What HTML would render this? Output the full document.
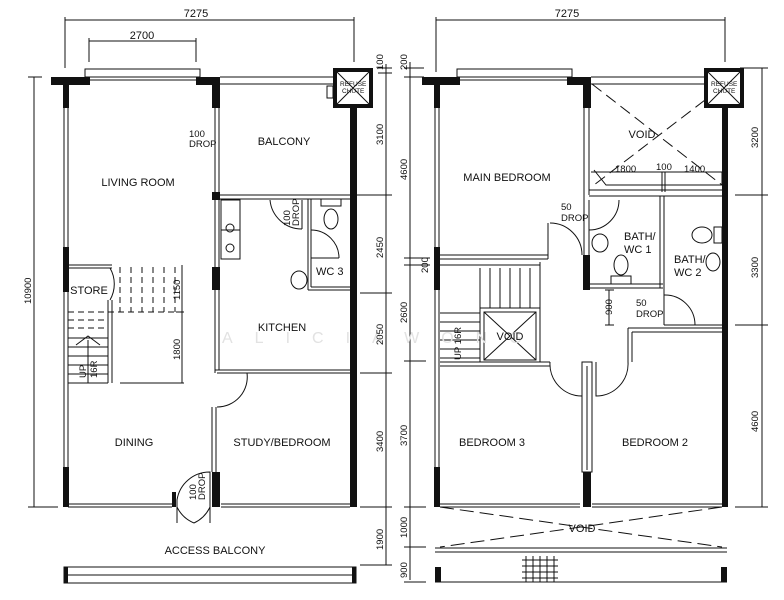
<!DOCTYPE html>
<html><head><meta charset="utf-8"><style>
html,body{margin:0;padding:0;background:#fff;width:784px;height:600px;overflow:hidden}
svg{display:block}
text{font-family:"Liberation Sans Narrow","Liberation Sans",sans-serif;fill:#111}
</style></head><body>
<svg width="784" height="600" viewBox="0 0 784 600" xmlns="http://www.w3.org/2000/svg">
<g stroke="#111" stroke-width="1" fill="none">
<line x1="65" y1="20" x2="354" y2="20"/><line x1="65" y1="17" x2="65" y2="68"/><line x1="354" y1="17" x2="354" y2="62"/>
<line x1="89" y1="41" x2="196" y2="41"/><line x1="89" y1="38" x2="89" y2="62"/><line x1="196" y1="38" x2="196" y2="62"/>
<line x1="34" y1="77" x2="34" y2="507"/><line x1="28" y1="77" x2="42" y2="77"/><line x1="28" y1="507" x2="58" y2="507"/>
<line x1="386" y1="64" x2="386" y2="565"/>
<line x1="378" y1="68" x2="392" y2="68"/><line x1="378" y1="73" x2="392" y2="73"/><line x1="344" y1="195" x2="392" y2="195"/><line x1="360" y1="293" x2="392" y2="293"/><line x1="360" y1="373" x2="392" y2="373"/><line x1="360" y1="507" x2="392" y2="507"/><line x1="360" y1="565" x2="392" y2="565"/>
<rect x="85" y="69" width="115" height="8"/>
<line x1="90" y1="77" x2="196" y2="77"/><line x1="90" y1="80" x2="196" y2="80"/>
<line x1="220" y1="77" x2="334" y2="77"/><line x1="220" y1="84" x2="334" y2="84"/>
<line x1="64" y1="108" x2="64" y2="470"/><line x1="68" y1="108" x2="68" y2="470"/>
<line x1="215" y1="108" x2="215" y2="193"/><line x1="219" y1="108" x2="219" y2="193"/>
<line x1="220" y1="195" x2="350" y2="195"/><line x1="220" y1="199" x2="350" y2="199"/>
<line x1="215" y1="200" x2="215" y2="373"/><line x1="219" y1="200" x2="219" y2="267"/>
<line x1="219" y1="290" x2="219" y2="370"/>
<rect x="221" y="200" width="19" height="59"/><line x1="221" y1="230" x2="240" y2="230"/>
<circle cx="230" cy="228" r="4"/><circle cx="230" cy="248" r="4"/>
<path d="M270 200 A32 32 0 0 0 302 229"/><line x1="302" y1="200" x2="302" y2="229"/>
<line x1="308" y1="199" x2="308" y2="290"/><line x1="311" y1="199" x2="311" y2="287"/>
<line x1="311" y1="287" x2="350" y2="287"/><line x1="308" y1="290" x2="350" y2="290"/>
<path d="M311 230 A28 28 0 0 1 339 258"/><line x1="311" y1="258" x2="339" y2="258"/>
<ellipse cx="331" cy="219" rx="7" ry="10"/><rect x="321" y="199" width="20" height="7"/>
<ellipse cx="299" cy="280" rx="8" ry="9"/>
<line x1="215" y1="370" x2="350" y2="370"/><line x1="219" y1="373" x2="350" y2="373"/>
<path d="M217 373 L247 373 A30 30 0 0 1 217 407"/>
<line x1="212" y1="407" x2="212" y2="472"/><line x1="216" y1="407" x2="216" y2="472"/>
<line x1="68" y1="504" x2="172" y2="504"/><line x1="68" y1="507" x2="172" y2="507"/>
<line x1="221" y1="504" x2="350" y2="504"/><line x1="221" y1="507" x2="350" y2="507"/>
<path d="M177 523 L177 500 A33 33 0 0 1 210 472 L210 523"/>
<path d="M177 507 A33 33 0 0 0 194 523"/><path d="M210 507 A33 33 0 0 1 194 523"/>
<line x1="68" y1="265" x2="112" y2="265"/><line x1="68" y1="268" x2="112" y2="268"/>
<line x1="108" y1="300" x2="108" y2="383"/><line x1="112" y1="300" x2="112" y2="383"/>
<path d="M110 268 A32 32 0 0 1 110 300"/>
<g stroke-dasharray="6,4">
<line x1="120" y1="267" x2="120" y2="312"/><line x1="131" y1="267" x2="131" y2="312"/><line x1="142" y1="267" x2="142" y2="312"/><line x1="153" y1="267" x2="153" y2="312"/><line x1="164" y1="267" x2="164" y2="312"/><line x1="175" y1="267" x2="175" y2="312"/>
<line x1="68" y1="312" x2="180" y2="312"/><line x1="68" y1="320" x2="108" y2="320"/><line x1="68" y1="328" x2="108" y2="328"/>
</g>
<line x1="68" y1="338" x2="108" y2="338"/><line x1="68" y1="347" x2="108" y2="347"/><line x1="68" y1="356" x2="108" y2="356"/><line x1="68" y1="365" x2="108" y2="365"/><line x1="68" y1="374" x2="108" y2="374"/><line x1="68" y1="383" x2="108" y2="383"/>
<line x1="88" y1="340" x2="88" y2="383"/><path d="M76 345 L88 336 L100 345"/>
<line x1="182" y1="265" x2="182" y2="383"/><line x1="120" y1="383" x2="184" y2="383"/><line x1="176" y1="312" x2="184" y2="312"/>
<rect x="64" y="567" width="292" height="16"/><line x1="68" y1="575" x2="352" y2="575"/>
<path d="M336 71 L370 105 M370 71 L336 105"/>
<rect x="327" y="86" width="6" height="12"/>

<line x1="436" y1="20" x2="725" y2="20"/><line x1="436" y1="17" x2="436" y2="72"/><line x1="725" y1="17" x2="725" y2="62"/>
<line x1="410" y1="62" x2="410" y2="580"/>
<line x1="404" y1="68" x2="424" y2="68"/><line x1="404" y1="77" x2="424" y2="77"/><line x1="404" y1="258" x2="430" y2="258"/><line x1="404" y1="265" x2="430" y2="265"/><line x1="404" y1="361" x2="426" y2="361"/><line x1="404" y1="507" x2="426" y2="507"/><line x1="404" y1="547" x2="426" y2="547"/><line x1="404" y1="582" x2="426" y2="582"/>
<line x1="762" y1="68" x2="762" y2="507"/><line x1="740" y1="68" x2="768" y2="68"/><line x1="735" y1="195" x2="768" y2="195"/><line x1="735" y1="325" x2="768" y2="325"/><line x1="735" y1="507" x2="768" y2="507"/>
<rect x="457" y="69" width="115" height="8"/>
<line x1="460" y1="77" x2="567" y2="77"/><line x1="460" y1="80" x2="567" y2="80"/>
<line x1="591" y1="77" x2="705" y2="77"/><line x1="591" y1="84" x2="705" y2="84"/>
<line x1="435" y1="108" x2="435" y2="247"/><line x1="439" y1="108" x2="439" y2="247"/>
<line x1="435" y1="290" x2="435" y2="467"/><line x1="439" y1="290" x2="439" y2="467"/>
<line x1="584" y1="108" x2="584" y2="200"/><line x1="589" y1="108" x2="589" y2="195"/>
<g stroke-dasharray="12,6"><line x1="592" y1="84" x2="722" y2="185"/><line x1="705" y1="100" x2="594" y2="185"/></g>
<path d="M594 170 L606 185 L722 185 M722 172 L722 185"/>
<line x1="591" y1="172" x2="722" y2="172"/>
<line x1="662" y1="172" x2="662" y2="192"/><line x1="665" y1="172" x2="665" y2="192"/>
<line x1="589" y1="190" x2="722" y2="190"/><line x1="589" y1="196" x2="722" y2="196"/>
<line x1="584" y1="200" x2="584" y2="290"/><line x1="589" y1="200" x2="589" y2="255"/>
<line x1="590" y1="284" x2="663" y2="284"/><line x1="590" y1="288" x2="663" y2="288"/>
<line x1="660" y1="196" x2="660" y2="288"/><line x1="664" y1="196" x2="664" y2="325"/>
<path d="M589 230 A30 30 0 0 0 619 200"/>
<ellipse cx="600" cy="243" rx="8" ry="9"/><ellipse cx="621" cy="265" rx="7" ry="10"/><rect x="611" y="276" width="20" height="8"/>
<ellipse cx="702" cy="235" rx="10" ry="8"/><rect x="714" y="227" width="8" height="16"/><ellipse cx="713" cy="262" rx="7" ry="9"/>
<path d="M664 295 A30 30 0 0 1 695 325"/><line x1="664" y1="325" x2="722" y2="325"/><line x1="628" y1="328" x2="722" y2="328"/>
<line x1="628" y1="328" x2="628" y2="362"/><line x1="632" y1="332" x2="632" y2="362"/>
<line x1="632" y1="332" x2="722" y2="332"/>
<line x1="609" y1="290" x2="609" y2="325"/><line x1="605" y1="290" x2="614" y2="290"/><line x1="605" y1="325" x2="614" y2="325"/>
<line x1="440" y1="255" x2="548" y2="255"/><line x1="440" y1="259" x2="548" y2="259"/>
<line x1="548" y1="223" x2="548" y2="259"/><path d="M550 223 A32 32 0 0 1 582 255"/>
<line x1="440" y1="265" x2="540" y2="265"/><line x1="540" y1="262" x2="540" y2="362"/>
<line x1="480" y1="268" x2="480" y2="362"/>
<line x1="490" y1="268" x2="490" y2="308"/><line x1="500" y1="268" x2="500" y2="308"/><line x1="510" y1="268" x2="510" y2="308"/><line x1="520" y1="268" x2="520" y2="308"/><line x1="530" y1="268" x2="530" y2="308"/>
<line x1="440" y1="313" x2="480" y2="313"/><line x1="440" y1="322" x2="480" y2="322"/><line x1="440" y1="331" x2="480" y2="331"/><line x1="440" y1="340" x2="480" y2="340"/><line x1="440" y1="349" x2="480" y2="349"/><line x1="440" y1="358" x2="480" y2="358"/>
<rect x="480" y="308" width="60" height="54"/><rect x="484" y="312" width="52" height="48"/>
<path d="M484 312 L536 360 M536 312 L484 360"/>
<line x1="440" y1="362" x2="550" y2="362"/><line x1="440" y1="366" x2="550" y2="366"/>
<path d="M550 362 A32 32 0 0 0 582 396 L582 362"/>
<rect x="582" y="362" width="10" height="110"/><line x1="587" y1="366" x2="587" y2="470"/>
<path d="M628 362 A32 32 0 0 1 596 396 L596 362"/>
<line x1="440" y1="504" x2="580" y2="504"/><line x1="440" y1="507" x2="580" y2="507"/>
<line x1="592" y1="504" x2="722" y2="504"/><line x1="592" y1="507" x2="722" y2="507"/>
<g stroke-dasharray="14,6"><line x1="440" y1="507" x2="722" y2="547"/><line x1="722" y1="507" x2="440" y2="547"/></g>
<line x1="435" y1="548" x2="727" y2="548"/><line x1="435" y1="552" x2="727" y2="552"/>
<line x1="435" y1="582" x2="727" y2="582"/>
<line x1="522" y1="560" x2="558" y2="560"/><line x1="522" y1="566" x2="558" y2="566"/><line x1="522" y1="572" x2="558" y2="572"/><line x1="522" y1="578" x2="558" y2="578"/>
<line x1="526" y1="556" x2="526" y2="582"/><line x1="533" y1="556" x2="533" y2="582"/><line x1="540" y1="556" x2="540" y2="582"/><line x1="547" y1="556" x2="547" y2="582"/><line x1="554" y1="556" x2="554" y2="582"/>
<path d="M707 71 L741 105 M741 71 L707 105"/>
</g>
<g fill="#111">
<rect x="51" y="77" width="39" height="8"/><rect x="63" y="85" width="6" height="23"/><rect x="196" y="77" width="24" height="8"/><rect x="212" y="85" width="8" height="23"/>
<rect x="350" y="108" width="7" height="399"/><rect x="212" y="192" width="8" height="8"/><rect x="212" y="267" width="8" height="23"/>
<rect x="63" y="247" width="6" height="45"/><rect x="63" y="467" width="6" height="40"/><rect x="212" y="472" width="8" height="35"/><rect x="172" y="492" width="4" height="15"/>
<rect x="64" y="567" width="4" height="16"/><rect x="352" y="567" width="4" height="16"/>
<rect x="422" y="77" width="38" height="8"/><rect x="434" y="85" width="6" height="23"/><rect x="567" y="77" width="24" height="8"/><rect x="583" y="85" width="8" height="23"/>
<rect x="722" y="108" width="6" height="399"/><rect x="434" y="247" width="6" height="43"/><rect x="583" y="255" width="7" height="35"/>
<rect x="434" y="467" width="6" height="40"/><rect x="583" y="472" width="8" height="35"/>
<rect x="435" y="567" width="6" height="15"/><rect x="721" y="567" width="6" height="15"/>
</g>
<g fill="none" stroke="#111" stroke-width="4"><rect x="335" y="70" width="36" height="36"/><rect x="706" y="70" width="36" height="36"/></g>
<g font-size="16" letter-spacing="22" style="fill:#e2e2e2"><text x="222" y="343" style="fill:#e2e2e2">ALICIAWONG</text></g>
<g font-size="11">
<text x="196" y="17" text-anchor="middle">7275</text><text x="142" y="39" text-anchor="middle">2700</text>
<text x="567" y="17" text-anchor="middle">7275</text>
<text x="138" y="186" text-anchor="middle">LIVING ROOM</text>
<text x="284" y="145" text-anchor="middle">BALCONY</text>
<text x="89" y="294" text-anchor="middle">STORE</text>
<text x="282" y="331" text-anchor="middle">KITCHEN</text>
<text x="134" y="446" text-anchor="middle">DINING</text>
<text x="282" y="446" text-anchor="middle">STUDY/BEDROOM</text>
<text x="215" y="554" text-anchor="middle">ACCESS BALCONY</text>
<text x="316" y="275">WC 3</text>
<text x="507" y="181" text-anchor="middle">MAIN BEDROOM</text>
<text x="624" y="240">BATH/</text><text x="624" y="253">WC 1</text>
<text x="674" y="263">BATH/</text><text x="674" y="276">WC 2</text>
<text x="492" y="446" text-anchor="middle">BEDROOM 3</text>
<text x="655" y="446" text-anchor="middle">BEDROOM 2</text>
<text x="510" y="340" text-anchor="middle">VOID</text>
<text x="642" y="138" text-anchor="middle">VOID</text>
<text x="582" y="532" text-anchor="middle">VOID</text>
</g>
<g font-size="9.5">
<text x="189" y="137">100</text><text x="189" y="147">DROP</text>
<text x="561" y="210">50</text><text x="561" y="221">DROP</text>
<text x="636" y="306">50</text><text x="636" y="317">DROP</text>
<text x="615" y="172">1800</text><text x="656" y="170">100</text><text x="684" y="172">1400</text>
<text transform="translate(290,226) rotate(-90)">100</text><text transform="translate(299,226) rotate(-90)">DROP</text>
<text transform="translate(196,500) rotate(-90)">100</text><text transform="translate(205,500) rotate(-90)">DROP</text>
<text transform="translate(86,378) rotate(-90)">UP</text><text transform="translate(97,378) rotate(-90)">16R</text>
<text transform="translate(461,360) rotate(-90)">UP 16R</text>
<text transform="translate(180,300) rotate(-90)">1150</text><text transform="translate(180,360) rotate(-90)">1800</text>
<text transform="translate(612,315) rotate(-90)">900</text>
<text transform="translate(31,304) rotate(-90)">10900</text>
<text transform="translate(383,70) rotate(-90)">100</text>
<text transform="translate(383,145) rotate(-90)">3100</text>
<text transform="translate(383,258) rotate(-90)">2450</text>
<text transform="translate(383,345) rotate(-90)">2050</text>
<text transform="translate(383,452) rotate(-90)">3400</text>
<text transform="translate(383,550) rotate(-90)">1900</text>
<text transform="translate(407,70) rotate(-90)">200</text>
<text transform="translate(407,180) rotate(-90)">4600</text>
<text transform="translate(428,273) rotate(-90)">200</text>
<text transform="translate(407,323) rotate(-90)">2600</text>
<text transform="translate(407,446) rotate(-90)">3700</text>
<text transform="translate(407,538) rotate(-90)">1000</text>
<text transform="translate(407,578) rotate(-90)">900</text>
<text transform="translate(758,148) rotate(-90)">3200</text>
<text transform="translate(758,278) rotate(-90)">3300</text>
<text transform="translate(758,432) rotate(-90)">4600</text>
</g>
<g font-size="6.5"><text x="340" y="86">REFUSE</text><text x="342" y="93">CHUTE</text><text x="711" y="86">REFUSE</text><text x="713" y="93">CHUTE</text></g>
</svg>
</body></html>
